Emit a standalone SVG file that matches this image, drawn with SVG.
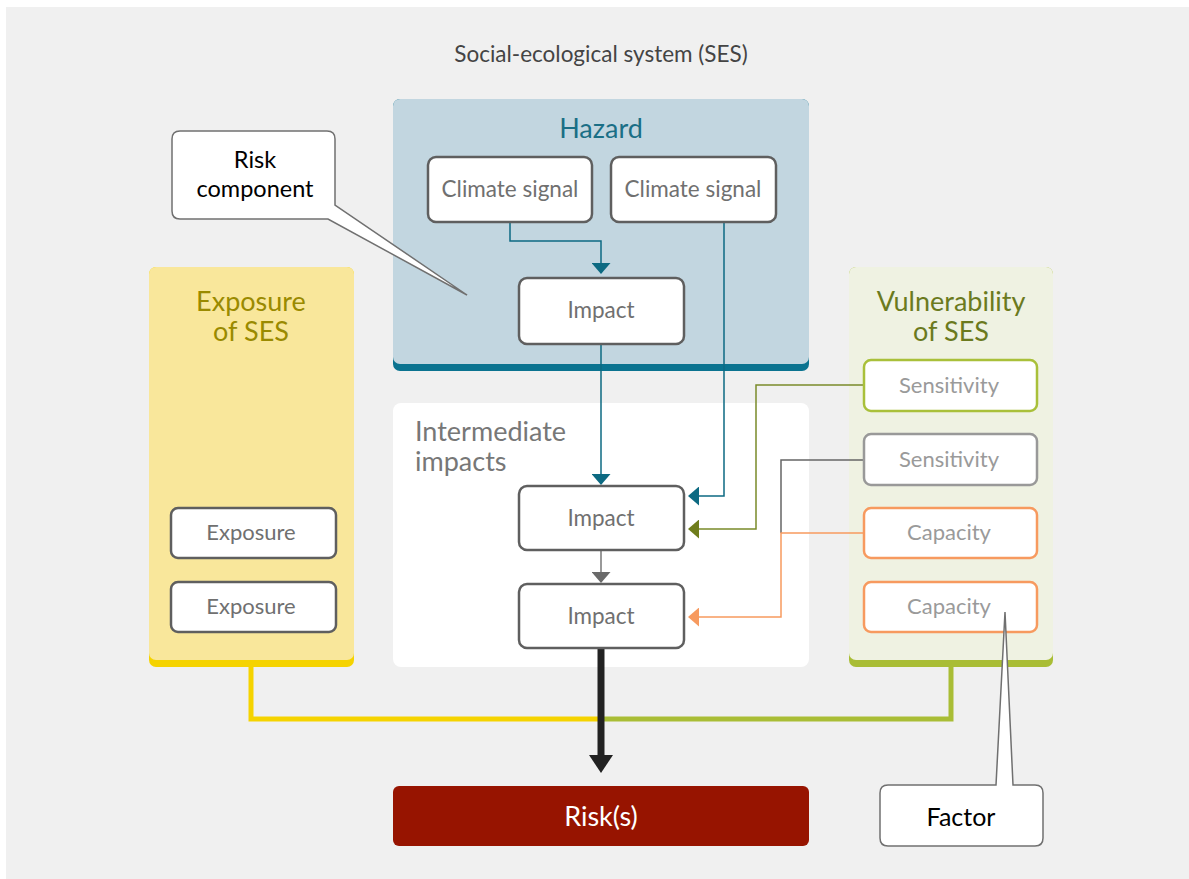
<svg xmlns="http://www.w3.org/2000/svg" width="1189" height="879" viewBox="0 0 1189 879">
<defs>
<style>
text{font-family:"Lato","Open Sans","Liberation Sans",sans-serif;text-anchor:middle}
.box{fill:#fff;stroke:#5f5f5f;stroke-width:2.5}
.lbl{font-size:22.5px;fill:#707070}
.lbl2{font-size:22px;fill:#9a9a9a}
.ttl{font-size:27px}
.call{fill:#fff;stroke:#707070;stroke-width:1.5}
.ctext{font-size:24.5px;fill:#000}
.thin{fill:none;stroke-width:1.5}
</style>
<marker id="aTs" viewBox="0 0 11 19" refX="10" refY="9.5" markerWidth="11" markerHeight="19" markerUnits="userSpaceOnUse" orient="auto"><path d="M0,0L11,9.5L0,19z" fill="#0d6a82"/></marker>
<marker id="aG" viewBox="0 0 11 19" refX="10" refY="9.5" markerWidth="11" markerHeight="19" markerUnits="userSpaceOnUse" orient="auto"><path d="M0,0L11,9.5L0,19z" fill="#6f7d1c"/></marker>
<marker id="aO" viewBox="0 0 11 19" refX="10" refY="9.5" markerWidth="11" markerHeight="19" markerUnits="userSpaceOnUse" orient="auto"><path d="M0,0L11,9.5L0,19z" fill="#f79a5f"/></marker>
<marker id="aY" viewBox="0 0 11 19" refX="10" refY="9.5" markerWidth="11" markerHeight="19" markerUnits="userSpaceOnUse" orient="auto"><path d="M0,0L11,9.5L0,19z" fill="#6a6a6a"/></marker>
</defs>
<rect x="6" y="7" width="1183" height="872" fill="#f0f0f0"/>
<text x="601" y="62" style="font-size:22.5px;fill:#444">Social-ecological system (SES)</text>

<g id="hazard">
<rect x="393" y="99" width="416" height="272" rx="7" fill="#0a7390"/>
<rect x="393" y="99" width="416" height="265" rx="7" fill="#c2d6e0"/>
<text x="601" y="138" class="ttl" fill="#1a6f86">Hazard</text>
</g>
<g id="intermediate">
<rect x="393" y="403" width="416" height="264" rx="8" fill="#fff"/>
<text x="415" y="441" class="ttl" fill="#777" style="text-anchor:start"><tspan x="415">Intermediate</tspan><tspan x="415" dy="30">impacts</tspan></text>
</g>
<g id="exposure-panel">
<rect x="149" y="267" width="205" height="400" rx="7" fill="#f5d300"/>
<rect x="149" y="267" width="205" height="393" rx="7" fill="#f9e79b"/>
<text x="251" y="311" class="ttl" fill="#9a8a00"><tspan x="251">Exposure</tspan><tspan x="251" dy="30">of SES</tspan></text>
</g>
<g id="vulnerability-panel">
<rect x="849" y="267" width="204" height="400" rx="7" fill="#a9bd35"/>
<rect x="849" y="267" width="204" height="393" rx="7" fill="#eff2e2"/>
<text x="951" y="311" class="ttl" fill="#6b7a1e"><tspan x="951">Vulnerability</tspan><tspan x="951" dy="30">of SES</tspan></text>
</g>

<g id="connectors">
<path d="M510,222V241H601V273" class="thin" stroke="#0d6a82" marker-end="url(#aTs)"/>
<path d="M724,222V496H689" class="thin" stroke="#0d6a82" marker-end="url(#aTs)"/>
<path d="M601,344V484" class="thin" stroke="#0d6a82" marker-end="url(#aTs)"/>
<path d="M601,550V582" fill="none" stroke="#999" stroke-width="2" marker-end="url(#aY)"/>
<path d="M864,385H756V529H689" class="thin" stroke="#7a8a2a" marker-end="url(#aG)"/>
<path d="M864,460H781V533" class="thin" stroke="#666"/>
<path d="M864,533H781V617H689" class="thin" stroke="#f79a5f" marker-end="url(#aO)"/>
<path d="M251,667V719H601" fill="none" stroke="#f5d300" stroke-width="5"/>
<path d="M601,719H951V667" fill="none" stroke="#a9bd35" stroke-width="5"/>
<path d="M601,648V756" fill="none" stroke="#222" stroke-width="7"/>
<path d="M589,755H613L601,773z" fill="#222"/>
</g>

<g id="climate1"><rect x="428" y="157" width="164" height="65" rx="8" class="box"/><text x="510" y="197" class="lbl">Climate signal</text></g>
<g id="climate2"><rect x="611" y="157" width="165" height="65" rx="8" class="box"/><text x="693" y="197" class="lbl">Climate signal</text></g>
<g id="impact1"><rect x="519" y="278" width="165" height="66" rx="8" class="box"/><text x="601" y="318" class="lbl">Impact</text></g>
<g id="impact2"><rect x="519" y="486" width="165" height="64" rx="8" class="box"/><text x="601" y="526" class="lbl">Impact</text></g>
<g id="impact3"><rect x="519" y="584" width="165" height="64" rx="8" class="box"/><text x="601" y="624" class="lbl">Impact</text></g>

<g id="exposure1"><rect x="171" y="508" width="165" height="50" rx="7" class="box"/><text x="251" y="540" class="lbl" style="font-size:22px">Exposure</text></g>
<g id="exposure2"><rect x="171" y="582" width="165" height="50" rx="7" class="box"/><text x="251" y="614" class="lbl" style="font-size:22px">Exposure</text></g>

<g id="sensitivity1"><rect x="864" y="360" width="173" height="51" rx="7" class="box" style="stroke:#a9c03a"/><text x="949" y="393" class="lbl2">Sensitivity</text></g>
<g id="sensitivity2"><rect x="864" y="434" width="173" height="51" rx="7" class="box" style="stroke:#999"/><text x="949" y="467" class="lbl2">Sensitivity</text></g>
<g id="capacity1"><rect x="864" y="508" width="173" height="50" rx="7" class="box" style="stroke:#f79a5f"/><text x="949" y="540" class="lbl2">Capacity</text></g>
<g id="capacity2"><rect x="864" y="582" width="173" height="50" rx="7" class="box" style="stroke:#f79a5f"/><text x="949" y="614" class="lbl2">Capacity</text></g>

<g id="risks"><rect x="393" y="786" width="416" height="60" rx="6" fill="#971400"/><text x="601" y="826" style="font-size:27px;fill:#fff">Risk(s)</text></g>

<g id="risk-component">
<path d="M180,131H327Q335,131 335,139V205L467,295L328,219H180Q172,219 172,211V139Q172,131 180,131Z" class="call"/>
<text x="255" y="168" class="ctext" style="font-size:23.5px"><tspan x="255">Risk</tspan><tspan x="255" dy="28.5">component</tspan></text>
</g>
<g id="factor">
<path d="M888,785H996L1005,612L1013,785H1035Q1043,785 1043,793V838Q1043,846 1035,846H888Q880,846 880,838V793Q880,785 888,785Z" class="call"/>
<text x="961" y="826" class="ctext" style="font-size:25px">Factor</text>
</g>
</svg>
